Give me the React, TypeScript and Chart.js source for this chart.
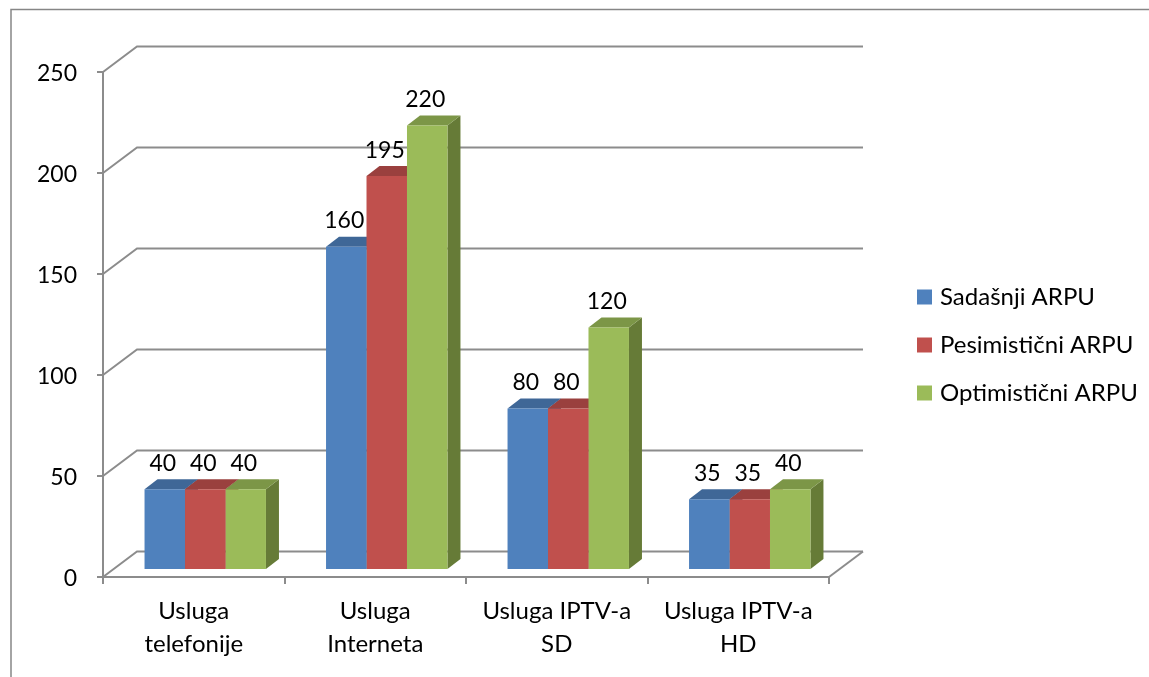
import React, { useEffect, useRef } from "react";
import { Chart, registerables } from "chart.js";

Chart.register(...registerables);

const categories = [["Usluga", "telefonije"], ["Usluga", "Interneta"], ["Usluga IPTV-a", "SD"], ["Usluga IPTV-a", "HD"]];
const seriesNames = ["Sadašnji ARPU", "Pesimistični ARPU", "Optimistični ARPU"];
const sadasnji = [40, 160, 80, 35];
const pesimisticni = [40, 195, 80, 35];
const optimisticni = [40, 220, 120, 40];
const frontColors = ["#4F81BD", "#C0504D", "#9BBB59"];
const topColors = ["#3F6797", "#9A403E", "#7C9647"];
const sideColors = ["#355679", "#803533", "#667B37"];

const FONT = "Lato, Carlito, sans-serif";
const GRID = "#8C8C8C";
const BACK_DX = 34;
const BACK_DY = -25.5;
const SHIFT_X = 11.5;
const SHIFT_Y = -7;
const DEPTH_X = 13;
const DEPTH_Y = -10;

const chart3d = {
  id: "chart3d",
  afterLayout(chart: any) {
    const lg = chart.legend;
    if (lg) {
      const w = lg.right - lg.left;
      lg.left = 921 - lg.options.labels.padding;
      lg.right = lg.left + w;
      lg.top = 261;
      lg.bottom = 677;
    }
  },
  beforeDraw(chart: any) {
    const { ctx, width, height } = chart;
    ctx.save();
    ctx.strokeStyle = "#868686";
    ctx.lineWidth = 1.5;
    ctx.beginPath();
    ctx.moveTo(11, height);
    ctx.lineTo(11, 9.5);
    ctx.lineTo(width, 9.5);
    ctx.stroke();
    ctx.restore();
    const yScale = chart.scales.y;
    if (!yScale.$nudged) {
      yScale.getLabelItems(chart.chartArea).forEach((it: any) => {
        it.options.translation[1] += 2;
      });
      yScale.$nudged = true;
    }
  },
  beforeDatasetsDraw(chart: any) {
    const { ctx, chartArea } = chart;
    const yScale = chart.scales.y;
    ctx.save();
    ctx.strokeStyle = GRID;
    ctx.lineWidth = 2;
    yScale.ticks.forEach((t: any) => {
      const y = yScale.getPixelForValue(t.value);
      ctx.beginPath();
      ctx.moveTo(chartArea.left, y);
      ctx.lineTo(chartArea.left + BACK_DX, y + BACK_DY);
      ctx.lineTo(chartArea.right + BACK_DX, y + BACK_DY);
      ctx.stroke();
    });
    const y0 = yScale.getPixelForValue(0);
    ctx.beginPath();
    ctx.moveTo(chartArea.right, y0);
    ctx.lineTo(chartArea.right + BACK_DX, y0 + BACK_DY);
    ctx.stroke();
    ctx.translate(SHIFT_X, SHIFT_Y);
    chart.data.datasets.forEach((_: any, di: number) => {
      chart.getDatasetMeta(di).data.forEach((bar: any) => {
        const l = bar.x - bar.width / 2;
        const r = bar.x + bar.width / 2;
        ctx.fillStyle = sideColors[di];
        ctx.beginPath();
        ctx.moveTo(r, bar.y);
        ctx.lineTo(r + DEPTH_X, bar.y + DEPTH_Y);
        ctx.lineTo(r + DEPTH_X, bar.base + DEPTH_Y);
        ctx.lineTo(r, bar.base);
        ctx.closePath();
        ctx.fill();
        ctx.fillStyle = topColors[di];
        ctx.beginPath();
        ctx.moveTo(l, bar.y);
        ctx.lineTo(l + DEPTH_X, bar.y + DEPTH_Y);
        ctx.lineTo(r + DEPTH_X, bar.y + DEPTH_Y);
        ctx.lineTo(r, bar.y);
        ctx.closePath();
        ctx.fill();
      });
    });
    ctx.restore();
    ctx.save();
    ctx.translate(SHIFT_X, SHIFT_Y);
  },
  afterDatasetsDraw(chart: any) {
    const { ctx } = chart;
    ctx.restore();
    ctx.save();
    ctx.fillStyle = "#000";
    ctx.font = `23px ${FONT}`;
    ctx.textAlign = "center";
    ctx.textBaseline = "middle";
    chart.data.datasets.forEach((ds: any, di: number) => {
      chart.getDatasetMeta(di).data.forEach((bar: any, i: number) => {
        ctx.fillText(String(ds.data[i]), bar.x + SHIFT_X - 2, bar.y + SHIFT_Y - 26);
      });
    });
    ctx.restore();
  },
};

export default function App() {
  const ref = useRef<HTMLCanvasElement>(null);
  useEffect(() => {
    const chart = new Chart(ref.current!, {
      type: "bar",
      data: {
        labels: categories,
        datasets: [sadasnji, pesimisticni, optimisticni].map((d, i) => ({
          label: seriesNames[i],
          data: d,
          backgroundColor: frontColors[i],
          borderWidth: 0,
          barPercentage: 1,
          categoryPercentage: 0.669,
        })),
      },
      options: {
        responsive: false,
        animation: false,
        layout: { padding: { left: 0, top: 72, right: 320, bottom: 0 } },
        scales: {
          x: {
            grid: { drawOnChartArea: false, color: GRID, lineWidth: 2, tickLength: 7 },
            border: { display: true, color: GRID, width: 2 },
            offset: true,
            afterFit: (s: any) => { s.height = 100; },
            ticks: { color: "#000", padding: 11, maxRotation: 0, autoSkip: false, font: { family: FONT, size: 24, lineHeight: 1.38 } },
          },
          y: {
            min: 0,
            max: 250,
            afterFit: (s: any) => { s.width = 103; },
            grid: { drawOnChartArea: false, color: GRID, lineWidth: 2, tickLength: 6 },
            border: { display: true, color: GRID, width: 2 },
            ticks: { stepSize: 50, color: "#000", padding: 20, font: { family: FONT, size: 23 } },
          },
        },
        plugins: {
          tooltip: { enabled: false },
          title: { display: false },
          legend: {
            position: "chartArea",
            align: "start",
            labels: {
              boxWidth: 7,
              boxHeight: 7,
              padding: 24,
              color: "#000",
              font: { family: FONT, size: 24 },
              generateLabels: () =>
                seriesNames.map((n, i) => ({
                  text: n,
                  fillStyle: frontColors[i],
                  strokeStyle: frontColors[i],
                  lineWidth: 8,
                  datasetIndex: i,
                  hidden: false,
                  fontColor: "#000",
                })),
            },
          },
        },
      } as any,
      plugins: [chart3d],
    } as any);
    return () => chart.destroy();
  }, []);
  return (
    <div style={{ position: "fixed", left: 0, top: 0, width: 1149, height: 677, background: "#fff" }}>
      <canvas ref={ref} width={1149} height={677} style={{ display: "block" }} />
    </div>
  );
}
